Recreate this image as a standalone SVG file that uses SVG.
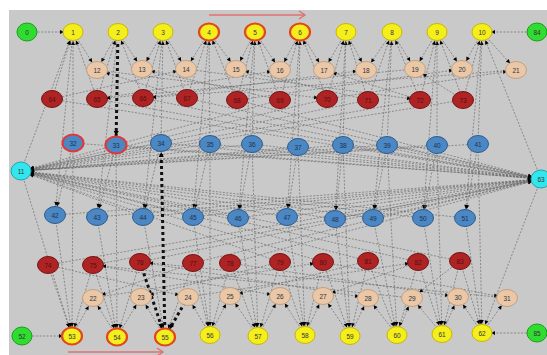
<svg xmlns="http://www.w3.org/2000/svg" width="547" height="355" viewBox="0 0 547 355">
<style>
.e{stroke:#666;stroke-width:0.65;stroke-dasharray:2 1.5;fill:none;marker-end:url(#a)}
.t{stroke:#111;stroke-width:3;stroke-dasharray:3 3;fill:none;marker-end:url(#b)}
.hl{stroke:#e07070;stroke-width:1.4;fill:none;marker-end:url(#h)}
text{font-family:"Liberation Sans",Arial,sans-serif;font-size:6.5px;text-anchor:middle;dominant-baseline:central;fill:#333}
.y ellipse{fill:#f3ee1c;stroke:#c9b800;stroke-width:1}
.yr ellipse{fill:#f3ee1c;stroke:#e2461e;stroke-width:2.2}
.g ellipse{fill:#2fdc2f;stroke:#1c9c1c;stroke-width:1}
.p ellipse{fill:#eac7a7;stroke:#c4a080;stroke-width:1}
.r ellipse{fill:#ae2424;stroke:#7a1212;stroke-width:1}
.r text{fill:#5a0c0c}
.bl ellipse{fill:#4b87c3;stroke:#2c5c92;stroke-width:1}
.bl text{fill:#1d3350}
.blr ellipse{fill:#4b87c3;stroke:#e03838;stroke-width:2}
.blr text{fill:#1d3350}
.c ellipse{fill:#33e6ee;stroke:#1aa6b4;stroke-width:1}
</style>
<defs>
<marker id="a" markerUnits="userSpaceOnUse" markerWidth="20" markerHeight="8" refX="13" refY="2" orient="auto" overflow="visible"><path d="M0,0 L4,2 L0,4z" fill="#000"/></marker>
<marker id="b" markerUnits="userSpaceOnUse" markerWidth="20" markerHeight="10" refX="14" refY="2.5" orient="auto" overflow="visible"><path d="M0,0 L5,2.5 L0,5z" fill="#000"/></marker>
<marker id="h" markerUnits="userSpaceOnUse" markerWidth="10" markerHeight="10" refX="6" refY="4" orient="auto" overflow="visible"><path d="M0,0 L6,4 L0,8" fill="none" stroke="#e07070" stroke-width="1.4"/></marker>
</defs>
<rect x="0" y="0" width="547" height="355" fill="#fff"/>
<rect x="9" y="10" width="538" height="345" fill="#c9c9c9"/>
<g id="connectors">
<line class="hl" x1="209" y1="15" x2="305" y2="15"/>
<line class="hl" x1="68" y1="352" x2="163" y2="352"/>
<line class="e" x1="27" y1="32" x2="73" y2="32"/>
<line class="e" x1="537" y1="32" x2="482" y2="32"/>
<line class="e" x1="22" y1="336" x2="72" y2="336"/>
<line class="e" x1="537" y1="333" x2="482" y2="333"/>
<line class="e" x1="73" y1="32" x2="97" y2="70"/>
<line class="e" x1="118" y1="32" x2="97" y2="70"/>
<line class="e" x1="118" y1="32" x2="142" y2="69"/>
<line class="e" x1="163" y1="32" x2="142" y2="69"/>
<line class="e" x1="163" y1="32" x2="186" y2="69"/>
<line class="e" x1="209" y1="32" x2="186" y2="69"/>
<line class="e" x1="209" y1="32" x2="236" y2="69"/>
<line class="e" x1="255" y1="32" x2="236" y2="69"/>
<line class="e" x1="255" y1="32" x2="280" y2="70"/>
<line class="e" x1="300" y1="32" x2="280" y2="70"/>
<line class="e" x1="300" y1="32" x2="324" y2="70"/>
<line class="e" x1="346" y1="32" x2="324" y2="70"/>
<line class="e" x1="346" y1="32" x2="366" y2="70"/>
<line class="e" x1="392" y1="32" x2="366" y2="70"/>
<line class="e" x1="392" y1="32" x2="415" y2="69"/>
<line class="e" x1="437" y1="32" x2="415" y2="69"/>
<line class="e" x1="437" y1="32" x2="462" y2="69"/>
<line class="e" x1="482" y1="32" x2="462" y2="69"/>
<line class="e" x1="482" y1="32" x2="516" y2="70"/>
<line class="e" x1="52" y1="99" x2="73" y2="32"/>
<line class="e" x1="97" y1="99" x2="73" y2="32"/>
<line class="e" x1="97" y1="99" x2="118" y2="32"/>
<line class="e" x1="143" y1="98" x2="118" y2="32"/>
<line class="e" x1="143" y1="98" x2="163" y2="32"/>
<line class="e" x1="187" y1="98" x2="163" y2="32"/>
<line class="e" x1="187" y1="98" x2="209" y2="32"/>
<line class="e" x1="237" y1="100" x2="209" y2="32"/>
<line class="e" x1="237" y1="100" x2="255" y2="32"/>
<line class="e" x1="280" y1="100" x2="255" y2="32"/>
<line class="e" x1="280" y1="100" x2="300" y2="32"/>
<line class="e" x1="327" y1="99" x2="300" y2="32"/>
<line class="e" x1="327" y1="99" x2="346" y2="32"/>
<line class="e" x1="368" y1="100" x2="346" y2="32"/>
<line class="e" x1="368" y1="100" x2="392" y2="32"/>
<line class="e" x1="420" y1="100" x2="392" y2="32"/>
<line class="e" x1="420" y1="100" x2="437" y2="32"/>
<line class="e" x1="463" y1="100" x2="437" y2="32"/>
<line class="e" x1="463" y1="100" x2="482" y2="32"/>
<line class="e" x1="73" y1="143" x2="73" y2="32"/>
<line class="e" x1="161" y1="143" x2="163" y2="32"/>
<line class="e" x1="210" y1="144" x2="209" y2="32"/>
<line class="e" x1="252" y1="144" x2="255" y2="32"/>
<line class="e" x1="298" y1="147" x2="300" y2="32"/>
<line class="e" x1="343" y1="145" x2="346" y2="32"/>
<line class="e" x1="387" y1="145" x2="392" y2="32"/>
<line class="e" x1="437" y1="145" x2="437" y2="32"/>
<line class="e" x1="478" y1="144" x2="482" y2="32"/>
<line class="e" x1="73" y1="32" x2="55" y2="215"/>
<line class="e" x1="118" y1="32" x2="97" y2="217"/>
<line class="e" x1="163" y1="32" x2="143" y2="217"/>
<line class="e" x1="209" y1="32" x2="193" y2="217"/>
<line class="e" x1="255" y1="32" x2="238" y2="218"/>
<line class="e" x1="300" y1="32" x2="287" y2="217"/>
<line class="e" x1="346" y1="32" x2="335" y2="219"/>
<line class="e" x1="392" y1="32" x2="373" y2="218"/>
<line class="e" x1="437" y1="32" x2="423" y2="218"/>
<line class="e" x1="482" y1="32" x2="465" y2="218"/>
<line class="e" x1="73" y1="143" x2="55" y2="215"/>
<line class="e" x1="116" y1="145" x2="97" y2="217"/>
<line class="e" x1="161" y1="143" x2="143" y2="217"/>
<line class="e" x1="210" y1="144" x2="193" y2="217"/>
<line class="e" x1="252" y1="144" x2="238" y2="218"/>
<line class="e" x1="298" y1="147" x2="287" y2="217"/>
<line class="e" x1="343" y1="145" x2="335" y2="219"/>
<line class="e" x1="387" y1="145" x2="373" y2="218"/>
<line class="e" x1="437" y1="145" x2="423" y2="218"/>
<line class="e" x1="478" y1="144" x2="465" y2="218"/>
<line class="e" x1="55" y1="215" x2="72" y2="336"/>
<line class="e" x1="97" y1="217" x2="117" y2="337"/>
<line class="e" x1="143" y1="217" x2="165" y2="337"/>
<line class="e" x1="193" y1="217" x2="210" y2="335"/>
<line class="e" x1="238" y1="218" x2="258" y2="336"/>
<line class="e" x1="287" y1="217" x2="305" y2="335"/>
<line class="e" x1="335" y1="219" x2="350" y2="336"/>
<line class="e" x1="373" y1="218" x2="397" y2="335"/>
<line class="e" x1="423" y1="218" x2="442" y2="334"/>
<line class="e" x1="465" y1="218" x2="482" y2="333"/>
<line class="e" x1="73" y1="143" x2="72" y2="336"/>
<line class="e" x1="116" y1="145" x2="117" y2="337"/>
<line class="e" x1="210" y1="144" x2="210" y2="335"/>
<line class="e" x1="252" y1="144" x2="258" y2="336"/>
<line class="e" x1="298" y1="147" x2="305" y2="335"/>
<line class="e" x1="343" y1="145" x2="350" y2="336"/>
<line class="e" x1="387" y1="145" x2="397" y2="335"/>
<line class="e" x1="437" y1="145" x2="442" y2="334"/>
<line class="e" x1="478" y1="144" x2="482" y2="333"/>
<line class="e" x1="72" y1="336" x2="93" y2="298"/>
<line class="e" x1="117" y1="337" x2="93" y2="298"/>
<line class="e" x1="117" y1="337" x2="141" y2="297"/>
<line class="e" x1="165" y1="337" x2="141" y2="297"/>
<line class="e" x1="210" y1="335" x2="188" y2="297"/>
<line class="e" x1="210" y1="335" x2="230" y2="296"/>
<line class="e" x1="258" y1="336" x2="230" y2="296"/>
<line class="e" x1="258" y1="336" x2="280" y2="296"/>
<line class="e" x1="305" y1="335" x2="280" y2="296"/>
<line class="e" x1="305" y1="335" x2="323" y2="296"/>
<line class="e" x1="350" y1="336" x2="323" y2="296"/>
<line class="e" x1="350" y1="336" x2="368" y2="298"/>
<line class="e" x1="397" y1="335" x2="368" y2="298"/>
<line class="e" x1="397" y1="335" x2="412" y2="298"/>
<line class="e" x1="442" y1="334" x2="412" y2="298"/>
<line class="e" x1="442" y1="334" x2="458" y2="297"/>
<line class="e" x1="482" y1="333" x2="458" y2="297"/>
<line class="e" x1="482" y1="333" x2="507" y2="298"/>
<line class="e" x1="48" y1="265" x2="72" y2="336"/>
<line class="e" x1="93" y1="265" x2="72" y2="336"/>
<line class="e" x1="93" y1="265" x2="117" y2="337"/>
<line class="e" x1="140" y1="262" x2="117" y2="337"/>
<line class="e" x1="193" y1="263" x2="165" y2="337"/>
<line class="e" x1="193" y1="263" x2="210" y2="335"/>
<line class="e" x1="230" y1="263" x2="210" y2="335"/>
<line class="e" x1="230" y1="263" x2="258" y2="336"/>
<line class="e" x1="280" y1="262" x2="258" y2="336"/>
<line class="e" x1="280" y1="262" x2="305" y2="335"/>
<line class="e" x1="323" y1="262" x2="305" y2="335"/>
<line class="e" x1="323" y1="262" x2="350" y2="336"/>
<line class="e" x1="368" y1="261" x2="350" y2="336"/>
<line class="e" x1="368" y1="261" x2="397" y2="335"/>
<line class="e" x1="418" y1="262" x2="397" y2="335"/>
<line class="e" x1="418" y1="262" x2="442" y2="334"/>
<line class="e" x1="460" y1="261" x2="442" y2="334"/>
<line class="e" x1="460" y1="261" x2="482" y2="333"/>
<line class="e" x1="52" y1="99" x2="186" y2="69"/>
<line class="e" x1="97" y1="99" x2="280" y2="70"/>
<line class="e" x1="143" y1="98" x2="366" y2="70"/>
<line class="e" x1="187" y1="98" x2="97" y2="70"/>
<line class="e" x1="237" y1="100" x2="462" y2="69"/>
<line class="e" x1="280" y1="100" x2="142" y2="69"/>
<line class="e" x1="327" y1="99" x2="516" y2="70"/>
<line class="e" x1="368" y1="100" x2="236" y2="69"/>
<line class="e" x1="420" y1="100" x2="324" y2="70"/>
<line class="e" x1="463" y1="100" x2="415" y2="69"/>
<line class="e" x1="97" y1="70" x2="327" y2="99"/>
<line class="e" x1="415" y1="69" x2="97" y2="99"/>
<line class="e" x1="186" y1="69" x2="420" y2="100"/>
<line class="e" x1="516" y1="70" x2="143" y2="98"/>
<line class="e" x1="48" y1="265" x2="188" y2="297"/>
<line class="e" x1="93" y1="265" x2="280" y2="296"/>
<line class="e" x1="140" y1="262" x2="368" y2="298"/>
<line class="e" x1="193" y1="263" x2="93" y2="298"/>
<line class="e" x1="230" y1="263" x2="458" y2="297"/>
<line class="e" x1="280" y1="262" x2="141" y2="297"/>
<line class="e" x1="323" y1="262" x2="507" y2="298"/>
<line class="e" x1="368" y1="261" x2="230" y2="296"/>
<line class="e" x1="418" y1="262" x2="323" y2="296"/>
<line class="e" x1="460" y1="261" x2="412" y2="298"/>
<line class="e" x1="93" y1="298" x2="323" y2="262"/>
<line class="e" x1="412" y1="298" x2="93" y2="265"/>
<line class="e" x1="188" y1="297" x2="418" y2="262"/>
<line class="e" x1="507" y1="298" x2="140" y2="262"/>
<line class="e" x1="161" y1="143" x2="21" y2="171"/>
<line class="e" x1="210" y1="144" x2="21" y2="171"/>
<line class="e" x1="252" y1="144" x2="21" y2="171"/>
<line class="e" x1="298" y1="147" x2="21" y2="171"/>
<line class="e" x1="343" y1="145" x2="21" y2="171"/>
<line class="e" x1="387" y1="145" x2="21" y2="171"/>
<line class="e" x1="437" y1="145" x2="21" y2="171"/>
<line class="e" x1="478" y1="144" x2="21" y2="171"/>
<line class="e" x1="280" y1="100" x2="21" y2="171"/>
<line class="e" x1="327" y1="99" x2="21" y2="171"/>
<line class="e" x1="368" y1="100" x2="21" y2="171"/>
<line class="e" x1="420" y1="100" x2="21" y2="171"/>
<line class="e" x1="463" y1="100" x2="21" y2="171"/>
<line class="e" x1="143" y1="217" x2="21" y2="171"/>
<line class="e" x1="193" y1="217" x2="21" y2="171"/>
<line class="e" x1="238" y1="218" x2="21" y2="171"/>
<line class="e" x1="287" y1="217" x2="21" y2="171"/>
<line class="e" x1="335" y1="219" x2="21" y2="171"/>
<line class="e" x1="373" y1="218" x2="21" y2="171"/>
<line class="e" x1="423" y1="218" x2="21" y2="171"/>
<line class="e" x1="465" y1="218" x2="21" y2="171"/>
<line class="e" x1="280" y1="262" x2="21" y2="171"/>
<line class="e" x1="323" y1="262" x2="21" y2="171"/>
<line class="e" x1="368" y1="261" x2="21" y2="171"/>
<line class="e" x1="418" y1="262" x2="21" y2="171"/>
<line class="e" x1="460" y1="261" x2="21" y2="171"/>
<line class="e" x1="21" y1="171" x2="73" y2="32"/>
<line class="e" x1="21" y1="171" x2="72" y2="336"/>
<line class="e" x1="73" y1="143" x2="541" y2="179"/>
<line class="e" x1="116" y1="145" x2="541" y2="179"/>
<line class="e" x1="161" y1="143" x2="541" y2="179"/>
<line class="e" x1="210" y1="144" x2="541" y2="179"/>
<line class="e" x1="252" y1="144" x2="541" y2="179"/>
<line class="e" x1="298" y1="147" x2="541" y2="179"/>
<line class="e" x1="343" y1="145" x2="541" y2="179"/>
<line class="e" x1="387" y1="145" x2="541" y2="179"/>
<line class="e" x1="52" y1="99" x2="541" y2="179"/>
<line class="e" x1="97" y1="99" x2="541" y2="179"/>
<line class="e" x1="143" y1="98" x2="541" y2="179"/>
<line class="e" x1="187" y1="98" x2="541" y2="179"/>
<line class="e" x1="237" y1="100" x2="541" y2="179"/>
<line class="e" x1="55" y1="215" x2="541" y2="179"/>
<line class="e" x1="97" y1="217" x2="541" y2="179"/>
<line class="e" x1="143" y1="217" x2="541" y2="179"/>
<line class="e" x1="193" y1="217" x2="541" y2="179"/>
<line class="e" x1="238" y1="218" x2="541" y2="179"/>
<line class="e" x1="287" y1="217" x2="541" y2="179"/>
<line class="e" x1="335" y1="219" x2="541" y2="179"/>
<line class="e" x1="373" y1="218" x2="541" y2="179"/>
<line class="e" x1="48" y1="265" x2="541" y2="179"/>
<line class="e" x1="93" y1="265" x2="541" y2="179"/>
<line class="e" x1="140" y1="262" x2="541" y2="179"/>
<line class="e" x1="193" y1="263" x2="541" y2="179"/>
<line class="e" x1="230" y1="263" x2="541" y2="179"/>
<line class="e" x1="541" y1="179" x2="482" y2="32"/>
<line class="e" x1="541" y1="179" x2="482" y2="333"/>
<line class="t" x1="118" y1="32" x2="116" y2="145"/>
<line class="t" x1="165" y1="337" x2="161" y2="143"/>
<line class="t" x1="140" y1="262" x2="165" y2="337"/>
<line class="t" x1="188" y1="297" x2="165" y2="337"/>
</g>
<g id="n0" class="g"><ellipse cx="27" cy="32" rx="10" ry="9"/><text x="27" y="32">0</text></g>
<g id="n84" class="g"><ellipse cx="537" cy="32" rx="10" ry="9"/><text x="537" y="32">84</text></g>
<g id="n52" class="g"><ellipse cx="22" cy="336" rx="10" ry="9"/><text x="22" y="336">52</text></g>
<g id="n85" class="g"><ellipse cx="537" cy="333" rx="10" ry="9"/><text x="537" y="333">85</text></g>
<g id="n11" class="c"><ellipse cx="21" cy="171" rx="10" ry="9"/><text x="21" y="171">11</text></g>
<g id="n63" class="c"><ellipse cx="541" cy="179" rx="10" ry="9"/><text x="541" y="179">63</text></g>
<g id="n1" class="y"><ellipse cx="73" cy="32" rx="10" ry="8.5"/><text x="73" y="32">1</text></g>
<g id="n2" class="y"><ellipse cx="118" cy="32" rx="10" ry="8.5"/><text x="118" y="32">2</text></g>
<g id="n3" class="y"><ellipse cx="163" cy="32" rx="10" ry="8.5"/><text x="163" y="32">3</text></g>
<g id="n4" class="yr"><ellipse cx="209" cy="32" rx="10" ry="8.5"/><text x="209" y="32">4</text></g>
<g id="n5" class="yr"><ellipse cx="255" cy="32" rx="10" ry="8.5"/><text x="255" y="32">5</text></g>
<g id="n6" class="yr"><ellipse cx="300" cy="32" rx="10" ry="8.5"/><text x="300" y="32">6</text></g>
<g id="n7" class="y"><ellipse cx="346" cy="32" rx="10" ry="8.5"/><text x="346" y="32">7</text></g>
<g id="n8" class="y"><ellipse cx="392" cy="32" rx="10" ry="8.5"/><text x="392" y="32">8</text></g>
<g id="n9" class="y"><ellipse cx="437" cy="32" rx="10" ry="8.5"/><text x="437" y="32">9</text></g>
<g id="n10" class="y"><ellipse cx="482" cy="32" rx="10" ry="8.5"/><text x="482" y="32">10</text></g>
<g id="n12" class="p"><ellipse cx="97" cy="70" rx="10.5" ry="8.5"/><text x="97" y="70">12</text></g>
<g id="n13" class="p"><ellipse cx="142" cy="69" rx="10.5" ry="8.5"/><text x="142" y="69">13</text></g>
<g id="n14" class="p"><ellipse cx="186" cy="69" rx="10.5" ry="8.5"/><text x="186" y="69">14</text></g>
<g id="n15" class="p"><ellipse cx="236" cy="69" rx="10.5" ry="8.5"/><text x="236" y="69">15</text></g>
<g id="n16" class="p"><ellipse cx="280" cy="70" rx="10.5" ry="8.5"/><text x="280" y="70">16</text></g>
<g id="n17" class="p"><ellipse cx="324" cy="70" rx="10.5" ry="8.5"/><text x="324" y="70">17</text></g>
<g id="n18" class="p"><ellipse cx="366" cy="70" rx="10.5" ry="8.5"/><text x="366" y="70">18</text></g>
<g id="n19" class="p"><ellipse cx="415" cy="69" rx="10.5" ry="8.5"/><text x="415" y="69">19</text></g>
<g id="n20" class="p"><ellipse cx="462" cy="69" rx="10.5" ry="8.5"/><text x="462" y="69">20</text></g>
<g id="n21" class="p"><ellipse cx="516" cy="70" rx="10.5" ry="8.5"/><text x="516" y="70">21</text></g>
<g id="n64" class="r"><ellipse cx="52" cy="99" rx="10.5" ry="8.5"/><text x="52" y="99">64</text></g>
<g id="n65" class="r"><ellipse cx="97" cy="99" rx="10.5" ry="8.5"/><text x="97" y="99">65</text></g>
<g id="n66" class="r"><ellipse cx="143" cy="98" rx="10.5" ry="8.5"/><text x="143" y="98">66</text></g>
<g id="n67" class="r"><ellipse cx="187" cy="98" rx="10.5" ry="8.5"/><text x="187" y="98">67</text></g>
<g id="n68" class="r"><ellipse cx="237" cy="100" rx="10.5" ry="8.5"/><text x="237" y="100">68</text></g>
<g id="n69" class="r"><ellipse cx="280" cy="100" rx="10.5" ry="8.5"/><text x="280" y="100">69</text></g>
<g id="n70" class="r"><ellipse cx="327" cy="99" rx="10.5" ry="8.5"/><text x="327" y="99">70</text></g>
<g id="n71" class="r"><ellipse cx="368" cy="100" rx="10.5" ry="8.5"/><text x="368" y="100">71</text></g>
<g id="n72" class="r"><ellipse cx="420" cy="100" rx="10.5" ry="8.5"/><text x="420" y="100">72</text></g>
<g id="n73" class="r"><ellipse cx="463" cy="100" rx="10.5" ry="8.5"/><text x="463" y="100">73</text></g>
<g id="n32" class="blr"><ellipse cx="73" cy="143" rx="10.5" ry="8.5"/><text x="73" y="143">32</text></g>
<g id="n33" class="blr"><ellipse cx="116" cy="145" rx="10.5" ry="8.5"/><text x="116" y="145">33</text></g>
<g id="n34" class="bl"><ellipse cx="161" cy="143" rx="10.5" ry="8.5"/><text x="161" y="143">34</text></g>
<g id="n35" class="bl"><ellipse cx="210" cy="144" rx="10.5" ry="8.5"/><text x="210" y="144">35</text></g>
<g id="n36" class="bl"><ellipse cx="252" cy="144" rx="10.5" ry="8.5"/><text x="252" y="144">36</text></g>
<g id="n37" class="bl"><ellipse cx="298" cy="147" rx="10.5" ry="8.5"/><text x="298" y="147">37</text></g>
<g id="n38" class="bl"><ellipse cx="343" cy="145" rx="10.5" ry="8.5"/><text x="343" y="145">38</text></g>
<g id="n39" class="bl"><ellipse cx="387" cy="145" rx="10.5" ry="8.5"/><text x="387" y="145">39</text></g>
<g id="n40" class="bl"><ellipse cx="437" cy="145" rx="10.5" ry="8.5"/><text x="437" y="145">40</text></g>
<g id="n41" class="bl"><ellipse cx="478" cy="144" rx="10.5" ry="8.5"/><text x="478" y="144">41</text></g>
<g id="n42" class="bl"><ellipse cx="55" cy="215" rx="10.5" ry="8.5"/><text x="55" y="215">42</text></g>
<g id="n43" class="bl"><ellipse cx="97" cy="217" rx="10.5" ry="8.5"/><text x="97" y="217">43</text></g>
<g id="n44" class="bl"><ellipse cx="143" cy="217" rx="10.5" ry="8.5"/><text x="143" y="217">44</text></g>
<g id="n45" class="bl"><ellipse cx="193" cy="217" rx="10.5" ry="8.5"/><text x="193" y="217">45</text></g>
<g id="n46" class="bl"><ellipse cx="238" cy="218" rx="10.5" ry="8.5"/><text x="238" y="218">46</text></g>
<g id="n47" class="bl"><ellipse cx="287" cy="217" rx="10.5" ry="8.5"/><text x="287" y="217">47</text></g>
<g id="n48" class="bl"><ellipse cx="335" cy="219" rx="10.5" ry="8.5"/><text x="335" y="219">48</text></g>
<g id="n49" class="bl"><ellipse cx="373" cy="218" rx="10.5" ry="8.5"/><text x="373" y="218">49</text></g>
<g id="n50" class="bl"><ellipse cx="423" cy="218" rx="10.5" ry="8.5"/><text x="423" y="218">50</text></g>
<g id="n51" class="bl"><ellipse cx="465" cy="218" rx="10.5" ry="8.5"/><text x="465" y="218">51</text></g>
<g id="n74" class="r"><ellipse cx="48" cy="265" rx="10.5" ry="8.5"/><text x="48" y="265">74</text></g>
<g id="n75" class="r"><ellipse cx="93" cy="265" rx="10.5" ry="8.5"/><text x="93" y="265">75</text></g>
<g id="n76" class="r"><ellipse cx="140" cy="262" rx="10.5" ry="8.5"/><text x="140" y="262">76</text></g>
<g id="n77" class="r"><ellipse cx="193" cy="263" rx="10.5" ry="8.5"/><text x="193" y="263">77</text></g>
<g id="n78" class="r"><ellipse cx="230" cy="263" rx="10.5" ry="8.5"/><text x="230" y="263">78</text></g>
<g id="n79" class="r"><ellipse cx="280" cy="262" rx="10.5" ry="8.5"/><text x="280" y="262">79</text></g>
<g id="n80" class="r"><ellipse cx="323" cy="262" rx="10.5" ry="8.5"/><text x="323" y="262">80</text></g>
<g id="n81" class="r"><ellipse cx="368" cy="261" rx="10.5" ry="8.5"/><text x="368" y="261">81</text></g>
<g id="n82" class="r"><ellipse cx="418" cy="262" rx="10.5" ry="8.5"/><text x="418" y="262">82</text></g>
<g id="n83" class="r"><ellipse cx="460" cy="261" rx="10.5" ry="8.5"/><text x="460" y="261">83</text></g>
<g id="n22" class="p"><ellipse cx="93" cy="298" rx="10.5" ry="8.5"/><text x="93" y="298">22</text></g>
<g id="n23" class="p"><ellipse cx="141" cy="297" rx="10.5" ry="8.5"/><text x="141" y="297">23</text></g>
<g id="n24" class="p"><ellipse cx="188" cy="297" rx="10.5" ry="8.5"/><text x="188" y="297">24</text></g>
<g id="n25" class="p"><ellipse cx="230" cy="296" rx="10.5" ry="8.5"/><text x="230" y="296">25</text></g>
<g id="n26" class="p"><ellipse cx="280" cy="296" rx="10.5" ry="8.5"/><text x="280" y="296">26</text></g>
<g id="n27" class="p"><ellipse cx="323" cy="296" rx="10.5" ry="8.5"/><text x="323" y="296">27</text></g>
<g id="n28" class="p"><ellipse cx="368" cy="298" rx="10.5" ry="8.5"/><text x="368" y="298">28</text></g>
<g id="n29" class="p"><ellipse cx="412" cy="298" rx="10.5" ry="8.5"/><text x="412" y="298">29</text></g>
<g id="n30" class="p"><ellipse cx="458" cy="297" rx="10.5" ry="8.5"/><text x="458" y="297">30</text></g>
<g id="n31" class="p"><ellipse cx="507" cy="298" rx="10.5" ry="8.5"/><text x="507" y="298">31</text></g>
<g id="n53" class="yr"><ellipse cx="72" cy="336" rx="10" ry="8.5"/><text x="72" y="336">53</text></g>
<g id="n54" class="yr"><ellipse cx="117" cy="337" rx="10" ry="8.5"/><text x="117" y="337">54</text></g>
<g id="n55" class="yr"><ellipse cx="165" cy="337" rx="10" ry="8.5"/><text x="165" y="337">55</text></g>
<g id="n56" class="y"><ellipse cx="210" cy="335" rx="10" ry="8.5"/><text x="210" y="335">56</text></g>
<g id="n57" class="y"><ellipse cx="258" cy="336" rx="10" ry="8.5"/><text x="258" y="336">57</text></g>
<g id="n58" class="y"><ellipse cx="305" cy="335" rx="10" ry="8.5"/><text x="305" y="335">58</text></g>
<g id="n59" class="y"><ellipse cx="350" cy="336" rx="10" ry="8.5"/><text x="350" y="336">59</text></g>
<g id="n60" class="y"><ellipse cx="397" cy="335" rx="10" ry="8.5"/><text x="397" y="335">60</text></g>
<g id="n61" class="y"><ellipse cx="442" cy="334" rx="10" ry="8.5"/><text x="442" y="334">61</text></g>
<g id="n62" class="y"><ellipse cx="482" cy="333" rx="10" ry="8.5"/><text x="482" y="333">62</text></g>
</svg>
